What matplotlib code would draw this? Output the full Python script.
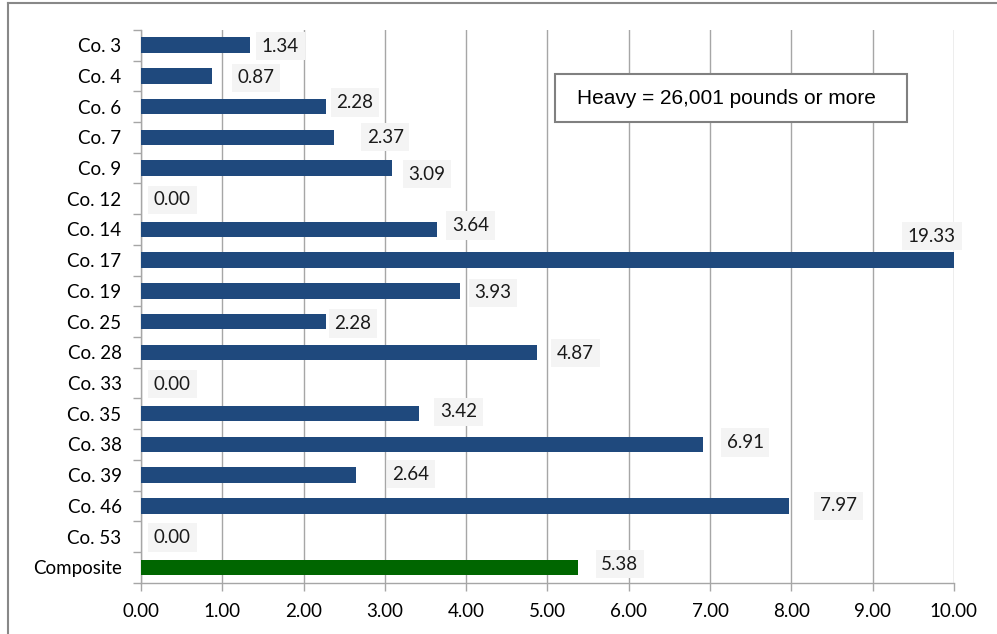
import numpy as np
import matplotlib.pyplot as plt
from matplotlib.patches import Rectangle
from matplotlib.lines import Line2D

# data
companies = ["Co. 3", "Co. 4", "Co. 6", "Co. 7", "Co. 9", "Co. 12", "Co. 14", "Co. 17",
             "Co. 19", "Co. 25", "Co. 28", "Co. 33", "Co. 35", "Co. 38", "Co. 39",
             "Co. 46", "Co. 53", "Composite"]
rates = [1.34, 0.87, 2.28, 2.37, 3.09, 0.00, 3.64, 19.33,
         3.93, 2.28, 4.87, 0.00, 3.42, 6.91, 2.64,
         7.97, 0.00, 5.38]
x_ticks = np.arange(0, 11, 1)
note = "Heavy = 26,001 pounds or more"

# label placement (pixel offsets from bar end, as in the manually placed excel labels)
label_dx = [12, 26, 10, 33, 16, 13, 15, -22, 14, 8, 20, 13, 21, 24, 37, 31, 13, 23]
label_dy = [-1, -2, 4, 0, -6, -1, 4, 24, -2, -2, -1, -1, 2, 2, 1, 0, -1, 3]

blue = "#1f497d"
green = "#006600"
grid_c = "#a6a6a6"

fig = plt.figure(figsize=(9.97, 6.34), dpi=100)
ax = fig.add_axes([0.1414, 0.081, 0.8154, 0.872])

y = np.arange(len(companies))
colors = [green if c == "Composite" else blue for c in companies]
ax.barh(y, np.minimum(rates, 10), height=0.5, color=colors, zorder=3)

ax.set_xlim(0, 10)
ax.set_ylim(len(companies) - 0.5, -0.5)

ax.set_xticks(x_ticks)
ax.set_xticklabels([f"{v:.2f}" for v in x_ticks], fontfamily="Lato", fontsize=13.5)
ax.set_yticks(y)
ax.set_yticklabels(companies, fontfamily="Lato", fontsize=13.5)
ax.set_yticks(np.arange(len(companies) + 1) - 0.5, minor=True)
ax.tick_params(axis="y", which="major", length=0, pad=14)
ax.tick_params(axis="y", which="minor", length=6, color=grid_c, width=1)
ax.tick_params(axis="x", which="major", length=6, color=grid_c, width=1, pad=9)

ax.grid(axis="x", color=grid_c, linewidth=1, zorder=0)
ax.set_axisbelow(True)
for s in ["top", "right"]:
    ax.spines[s].set_visible(False)
for s in ["left", "bottom"]:
    ax.spines[s].set_color(grid_c)
    ax.spines[s].set_linewidth(1)

for i, v in enumerate(rates):
    xv = min(v, 10)
    ax.annotate(f"{v:.2f}", xy=(xv, i), xytext=(label_dx[i], label_dy[i]),
                textcoords="offset pixels", ha="center" if v > 10 else "left",
                va="center", fontsize=13.5, fontfamily="Lato", color="#1a1a1a",
                bbox=dict(boxstyle="square,pad=0.3", facecolor="#f4f4f4", edgecolor="none"),
                zorder=4)

# note box
fig.patches.append(Rectangle((0.5567, 0.8076), 0.353, 0.0757, transform=fig.transFigure,
                             facecolor="white", edgecolor="#808080", linewidth=1.5, zorder=5))
fig.text(0.7285, 0.845, note, ha="center", va="center", fontsize=15,
         fontfamily="Liberation Sans", zorder=6)

# chart border
fig.lines.append(Line2D([0.008, 1.0], [0.996, 0.996], transform=fig.transFigure,
                        color="#888888", linewidth=1.5))
fig.lines.append(Line2D([0.008, 0.008], [0.0, 0.996], transform=fig.transFigure,
                        color="#888888", linewidth=1.5))

fig.savefig("out.png", dpi=100)
